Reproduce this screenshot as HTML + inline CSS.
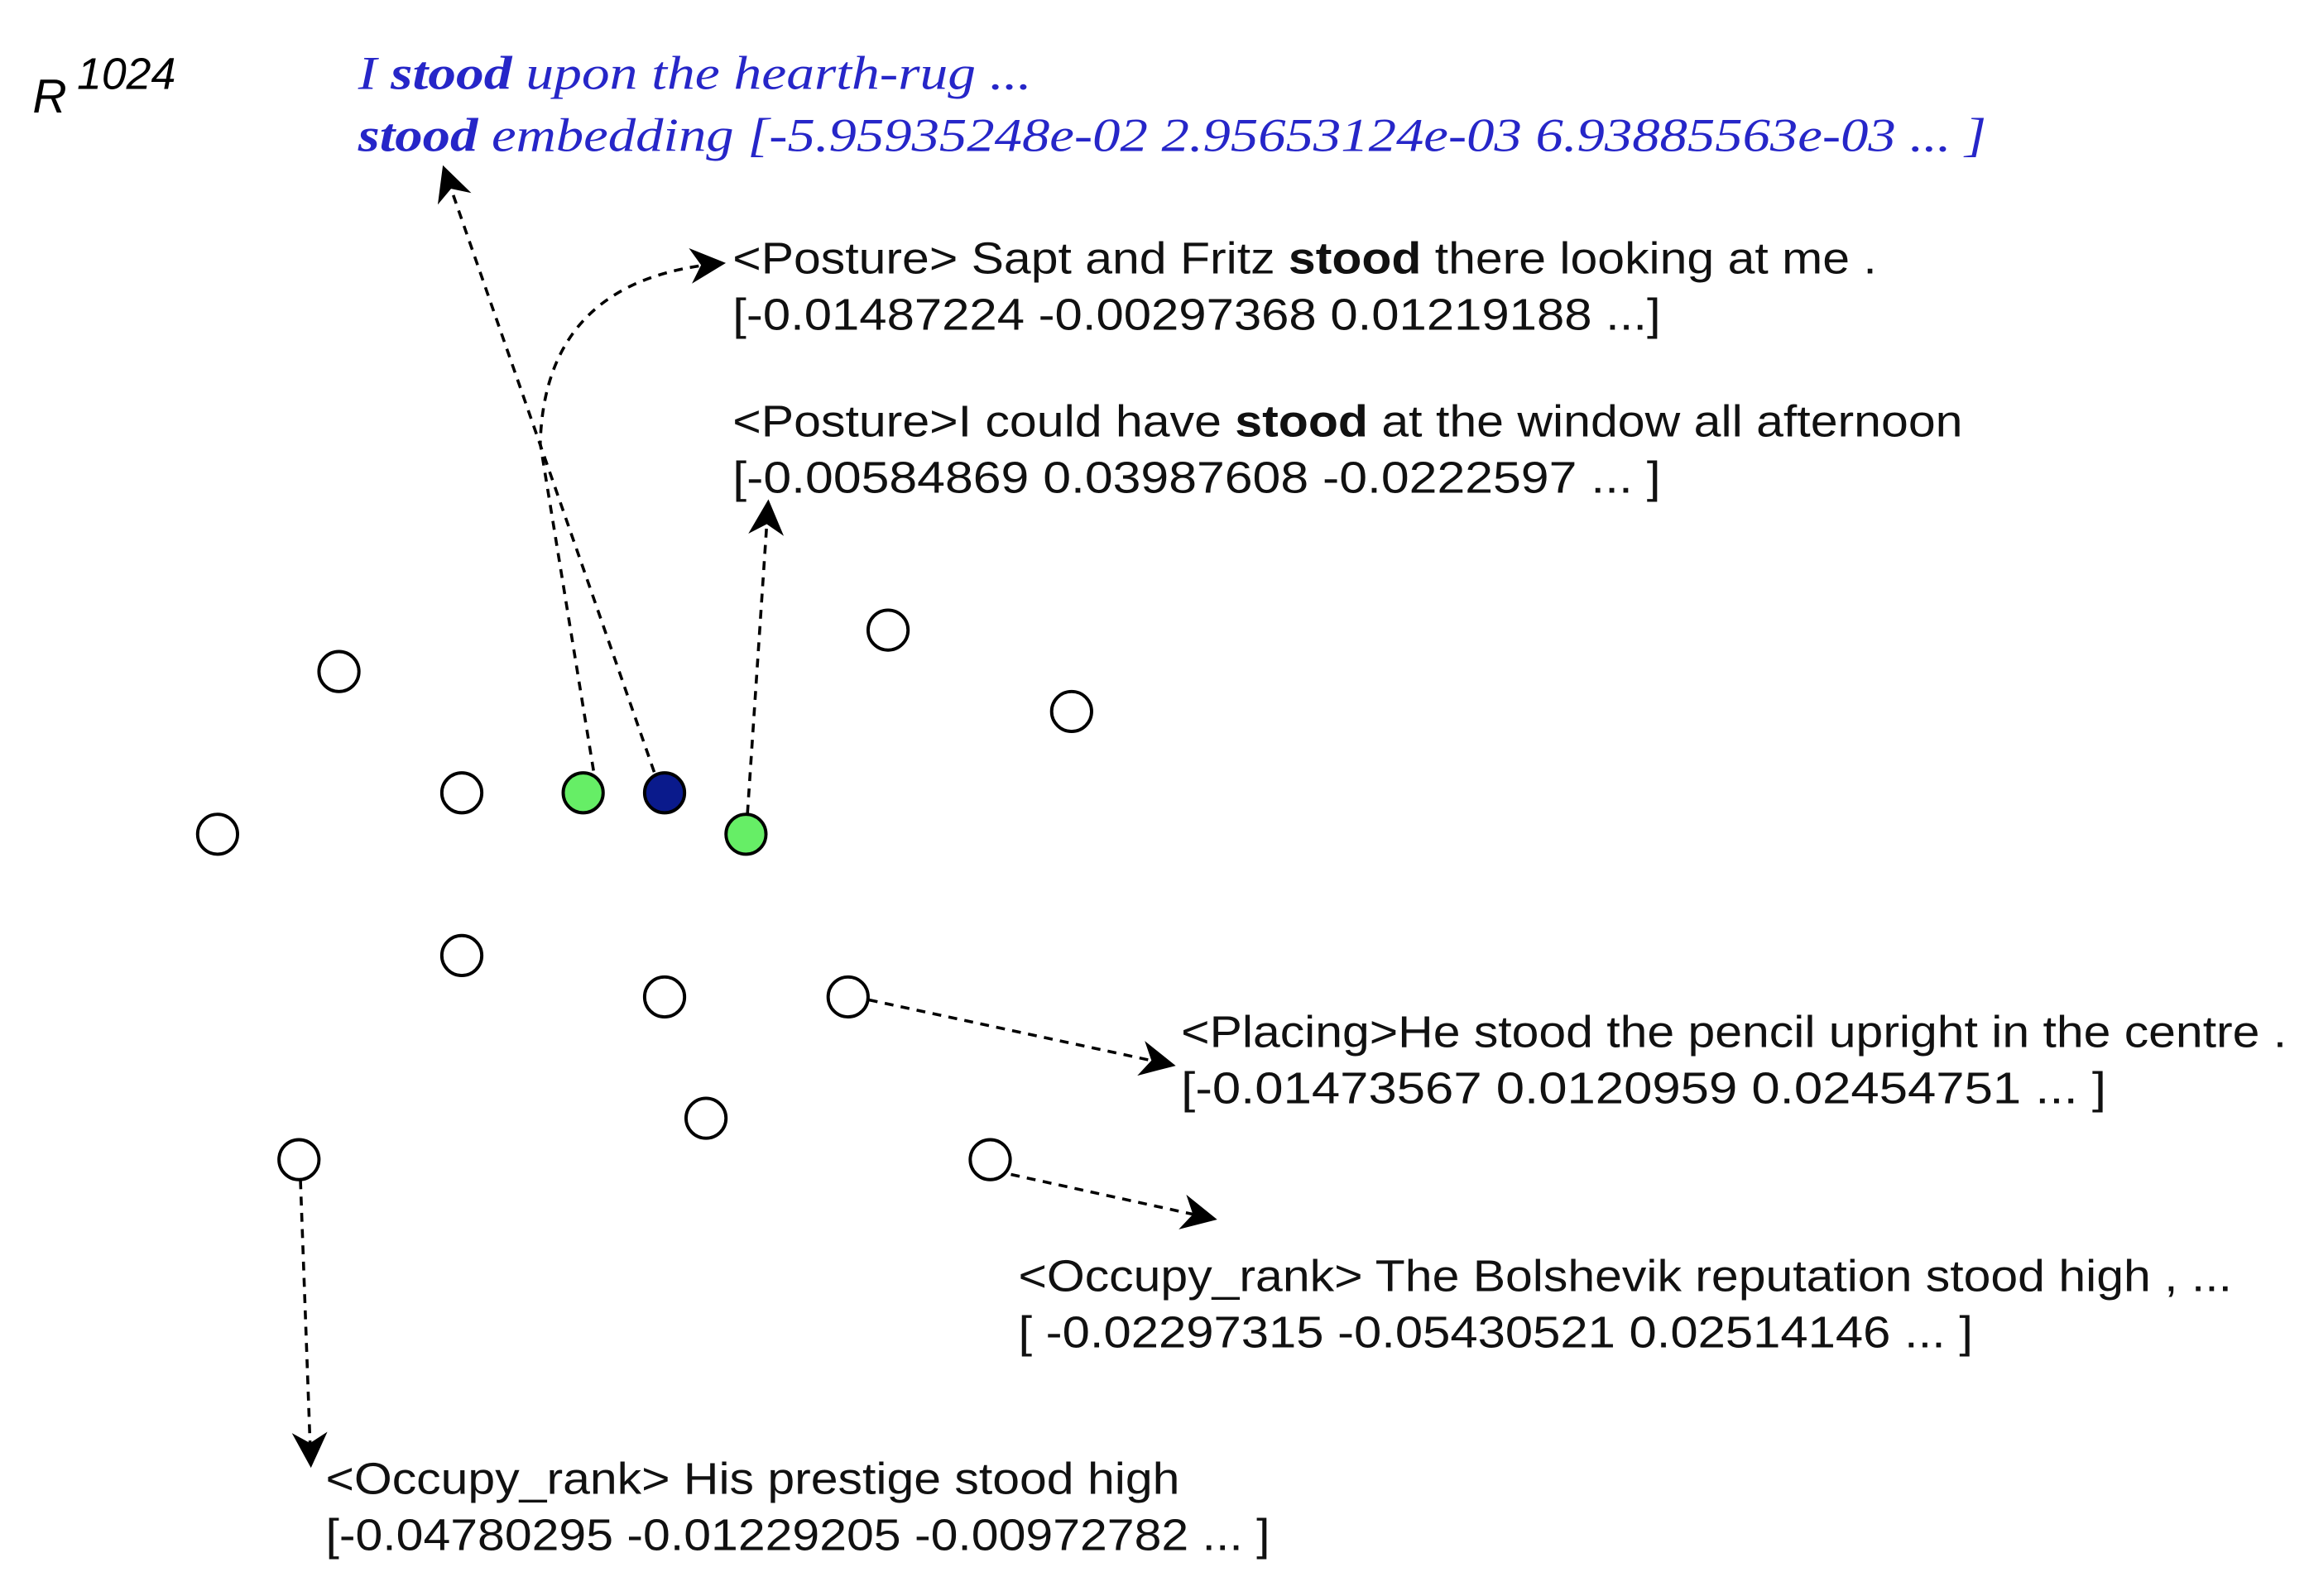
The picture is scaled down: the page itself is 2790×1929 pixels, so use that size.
<!DOCTYPE html>
<html><head><meta charset="utf-8"><style>
html,body{margin:0;padding:0;background:#fff;width:2790px;height:1929px;overflow:hidden}
svg{display:block}
.s{font-family:"Liberation Sans",sans-serif;font-size:30px;fill:#111}
.b{font-family:"Liberation Serif",serif;font-style:italic;font-size:32px;fill:#2626c8}
</style></head><body>
<svg width="2790" height="1929" viewBox="0 0 1560 1079" preserveAspectRatio="none" xmlns="http://www.w3.org/2000/svg">
<defs><marker id="a" markerWidth="10" markerHeight="10" refX="8" refY="5" orient="auto" markerUnits="userSpaceOnUse"><path d="M0,0 L10,5 L0,10 L3,5 z" fill="#000"/></marker>
<marker id="m" viewBox="0 0 10 10" markerWidth="24" markerHeight="24" refX="9" refY="5" orient="auto" markerUnits="userSpaceOnUse"><path d="M0,0 L10,5 L0,10 L3,5 z" fill="#000"/></marker></defs>
<text x="22" y="76" style="font-family:'Liberation Sans',sans-serif;font-style:italic;font-size:32px">R</text>
<text x="52" y="60" style="font-family:'Liberation Sans',sans-serif;font-style:italic;font-size:30px">1024</text>
<text class="b" x="242" y="60" textLength="455" lengthAdjust="spacingAndGlyphs">I <tspan font-weight="bold">stood</tspan> upon the hearth-rug ...</text>
<text class="b" x="242" y="102" textLength="1100" lengthAdjust="spacingAndGlyphs"><tspan font-weight="bold">stood</tspan> embedding [-5.95935248e-02  2.95653124e-03  6.93885563e-03 ... ]</text>
<text class="s" x="495" y="185" textLength="773" lengthAdjust="spacingAndGlyphs">&lt;Posture&gt; Sapt and Fritz <tspan font-weight="bold">stood</tspan> there looking at me .</text>
<text class="s" x="495" y="223" textLength="627" lengthAdjust="spacingAndGlyphs">[-0.01487224 -0.00297368  0.01219188 ...]</text>
<text class="s" x="495" y="295" textLength="831" lengthAdjust="spacingAndGlyphs">&lt;Posture&gt;I could have <tspan font-weight="bold">stood</tspan> at the window all afternoon</text>
<text class="s" x="495" y="333" textLength="627" lengthAdjust="spacingAndGlyphs">[-0.00584869  0.03987608 -0.0222597  ... ]</text>
<text class="s" x="798" y="708" textLength="747" lengthAdjust="spacingAndGlyphs">&lt;Placing&gt;He stood the pencil upright in the centre .</text>
<text class="s" x="798" y="746" textLength="625" lengthAdjust="spacingAndGlyphs">[-0.01473567  0.0120959   0.02454751 ... ]</text>
<text class="s" x="688" y="873" textLength="820" lengthAdjust="spacingAndGlyphs">&lt;Occupy_rank&gt; The Bolshevik reputation stood high , ...</text>
<text class="s" x="688" y="911" textLength="645" lengthAdjust="spacingAndGlyphs">[ -0.02297315 -0.05430521  0.02514146 ... ]</text>
<text class="s" x="220" y="1010" textLength="577" lengthAdjust="spacingAndGlyphs">&lt;Occupy_rank&gt; His prestige stood high</text>
<text class="s" x="220" y="1048" textLength="638" lengthAdjust="spacingAndGlyphs">[-0.04780295 -0.01229205 -0.00972782 ... ]</text>
<g fill="none" stroke="#000" stroke-width="2" stroke-dasharray="6,5">
<path d="M442,522 L300,114" marker-end="url(#m)"/>
<path d="M401,521 L365,300 Q368,188 488,178" marker-end="url(#m)"/>
<path d="M505,550 L519,340" marker-end="url(#m)"/>
<path d="M587,676 L792,720" marker-end="url(#m)"/>
<path d="M683,794 L820,824" marker-end="url(#m)"/>
<path d="M203,798 L210,990" marker-end="url(#m)"/>
</g>
<g stroke="#000" stroke-width="2.2" fill="#fff">
<circle cx="229" cy="454" r="13.5"/><circle cx="600" cy="426" r="13.5"/><circle cx="724" cy="481" r="13.5"/>
<circle cx="312" cy="536" r="13.5"/><circle cx="394" cy="536" r="13.5" fill="#66ee66"/><circle cx="449" cy="536" r="13.5" fill="#0a1a8c"/>
<circle cx="147" cy="564" r="13.5"/><circle cx="504" cy="564" r="13.5" fill="#66ee66"/>
<circle cx="312" cy="646" r="13.5"/><circle cx="449" cy="674" r="13.5"/><circle cx="573" cy="674" r="13.5"/>
<circle cx="477" cy="756" r="13.5"/><circle cx="202" cy="784" r="13.5"/><circle cx="669" cy="784" r="13.5"/>
</g>
</svg>
</body></html>
